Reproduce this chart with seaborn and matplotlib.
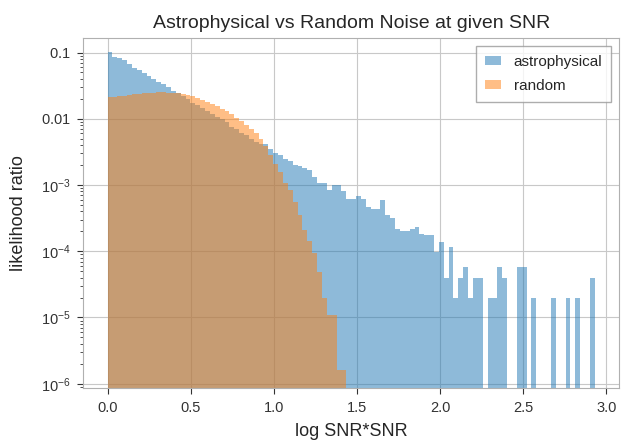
import numpy as np
import pandas as pd
import matplotlib
matplotlib.use("Agg")
import matplotlib.pyplot as plt
import seaborn as sns

# ------------------------------
# Data (bar heights per bin, shared bins)
n_bins = 100
x_max = 2.93

astro_heights = [
    0.101, 0.087, 0.082, 0.077, 0.066, 0.059, 0.055, 0.049, 0.044, 0.040,
    0.0365, 0.0333, 0.0298, 0.0266, 0.0244, 0.0224, 0.0198, 0.0174, 0.0162, 0.0145,
    0.0133, 0.0116, 0.0106, 0.0099, 0.0088, 0.0075, 0.0070, 0.0062, 0.0057, 0.0050,
    0.0045, 0.0042, 0.0041, 0.0035, 0.0030, 0.0028, 0.0025, 0.0023, 0.0020, 0.00196,
    0.0018, 0.0017, 0.0013, 0.00109, 0.00109, 0.00083, 0.00100, 0.00100, 0.00082, 0.00061,
    0.00061, 0.00068, 0.00061, 0.00047, 0.00043, 0.00043, 0.00059, 0.000355, 0.000316, 0.000215,
    0.000205, 0.000205, 0.000215, 0.000234, 0.000185, 0.000175, 0.000175, 0.0000975, 0.000137, 0.000039,
    0.000117, 0.0000195, 0.000039, 0.0000585, 0.0000195, 0.000039, 0.000039, 0, 0.0000195, 0.0000195,
    0.0000585, 0.000039, 0, 0, 0.0000585, 0.0000585, 0, 0.0000195, 0, 0,
    0, 0.0000195, 0, 0, 0.0000195, 0, 0.0000195, 0, 0, 0.000039,
]

random_heights = [
    0.0210, 0.0213, 0.0218, 0.0222, 0.0228, 0.0233, 0.0238, 0.0243, 0.0246, 0.0249,
    0.0250, 0.0250, 0.0249, 0.0248, 0.0246, 0.0240, 0.0228, 0.0220, 0.0205, 0.0195,
    0.0180, 0.0168, 0.0155, 0.0140, 0.0133, 0.0118, 0.0103, 0.0092, 0.0080, 0.0069,
    0.0060, 0.0049, 0.0039, 0.00285, 0.00209, 0.00155, 0.00106, 0.00084, 0.00056, 0.000355,
    0.00021, 0.000145, 0.000093, 0.000048, 0.000020, 0.000011, 0.000011, 0.0000016, 0.0000016,
]

bin_edges = np.linspace(0, x_max, n_bins + 1)
bin_centers = (bin_edges[:-1] + bin_edges[1:]) / 2

df_astro = pd.DataFrame({"x": bin_centers, "w": astro_heights})
df_random = pd.DataFrame({"x": bin_centers[:len(random_heights)], "w": random_heights})

# ------------------------------
# Style
sns.set_style("whitegrid", {
    "grid.color": "#c8c8c8",
    "axes.edgecolor": "#b0b0b0",
    "xtick.bottom": True,
    "ytick.left": True,
    "xtick.color": "#333333",
    "ytick.color": "#333333",
})
plt.rcParams["font.family"] = ["Liberation Sans", "DejaVu Sans"]
plt.rcParams["mathtext.fontset"] = "custom"
plt.rcParams["mathtext.rm"] = "Liberation Sans"
plt.rcParams["mathtext.it"] = "Liberation Sans:italic"
plt.rcParams["mathtext.bf"] = "Liberation Sans:bold"
plt.rcParams["axes.formatter.min_exponent"] = 3

fig = plt.figure(figsize=(6.21, 4.43), dpi=100)
ax = fig.add_axes([0.134, 0.124, 0.863, 0.790])

sns.histplot(data=df_astro, x="x", weights="w", bins=n_bins, binrange=(0, x_max),
             stat="count", color="#1f77b4", alpha=0.5, linewidth=0,
             label="astrophysical", ax=ax)
sns.histplot(data=df_random, x="x", weights="w", bins=n_bins, binrange=(0, x_max),
             stat="count", color="#ff7f0e", alpha=0.5, linewidth=0,
             label="random", ax=ax)

ax.set_yscale("log")
ax.set_ylim(8.6e-7, 0.165)
ax.set_xlim(-0.1465, 3.0765)
ax.set_xticks([0.0, 0.5, 1.0, 1.5, 2.0, 2.5, 3.0])
ax.tick_params(axis="both", which="major", length=4.5, width=0.8, labelsize=10.5, pad=4.5)
ax.tick_params(axis="y", which="minor", length=2.5, width=0.6, left=True)
ax.grid(True, which="major", linewidth=0.8)
ax.grid(False, which="minor")

ax.set_title("Astrophysical vs Random Noise at given SNR", fontsize=14, pad=7)
ax.set_xlabel("log SNR*SNR", fontsize=13, labelpad=6)
ax.set_ylabel("likelihood ratio", fontsize=13, labelpad=10)
leg = ax.legend(loc="upper right", fontsize=11, frameon=True, fancybox=False,
                handlelength=1.1, handleheight=0.55, borderaxespad=0.5,
                labelspacing=0.65, borderpad=0.6)
leg.get_frame().set_edgecolor("#999999")

fig.savefig("out.png", dpi=100)
